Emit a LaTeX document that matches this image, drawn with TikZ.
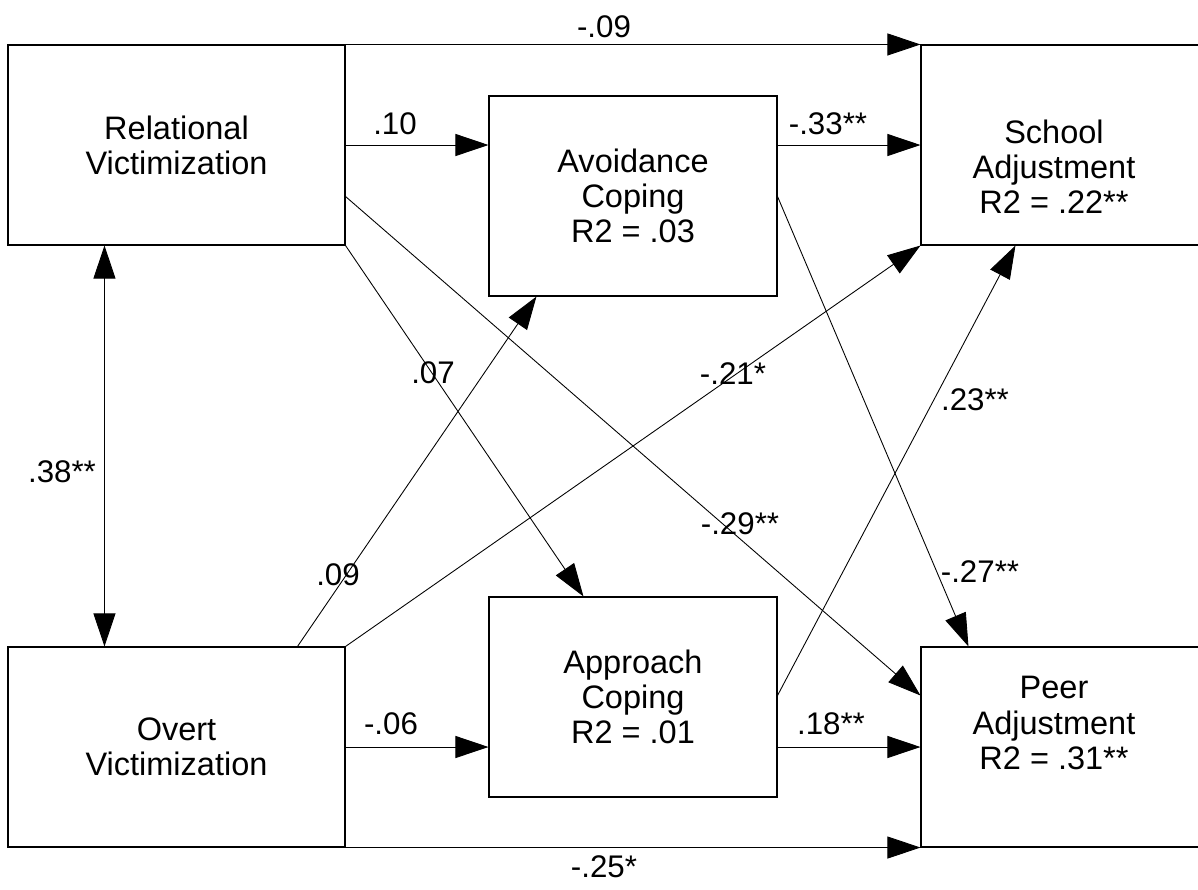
\documentclass[tikz,border=0pt]{standalone}
\usepackage{fontspec}
\setmainfont{Liberation Sans}
\usetikzlibrary{arrows.meta,calc,fit}
\begin{document}
\begin{tikzpicture}[x=0.02cm,y=-0.02cm,
  box/.style={draw, line width=0.6pt, inner sep=0pt, rectangle},
  txt/.style={align=center, font=\fontsize{18.5}{20}\selectfont, inner sep=0pt},
  lab/.style={font=\fontsize{17.8}{20}\selectfont, inner sep=0pt},
  conn/.style={line width=0.5pt, -{Triangle[length=0.66cm,width=0.44cm]}},
  dconn/.style={line width=0.5pt, {Triangle[length=0.66cm,width=0.44cm]}-{Triangle[length=0.66cm,width=0.44cm]}},
]
\useasboundingbox (0,0) rectangle (1198,890);
\clip (0,0) rectangle (1198,890);
\fill[white] (0,0) rectangle (1198,890);

% boxes
\node[box, fit={(8,45) (345,245)}] (rel) {};
\node[box, fit={(489,96) (777,296)}] (avo) {};
\node[box, fit={(921,45) (1202,245)}] (sch) {};
\node[box, fit={(8,647) (345,847)}] (ov) {};
\node[box, fit={(489,597) (777,797)}] (app) {};
\node[box, fit={(921,647) (1202,847)}] (peer) {};

% box texts
\node[txt] (reltxt) at (rel.center) {Relational\\Victimization};
\node[txt] (avotxt) at (avo.center) {Avoidance\\Coping\\R2 = .03};
\node[txt] (schtxt) at (1054,167) {School\\Adjustment\\R2 = .22**};
\node[txt] (ovtxt) at (ov.center) {Overt\\Victimization};
\node[txt] (apptxt) at (app.center) {Approach\\Coping\\R2 = .01};
\node[txt] (peertxt) at (1054,723) {Peer\\Adjustment\\R2 = .31**};

% horizontal paths
\draw[conn] (rel.north east) -- (sch.north west);
\draw[conn] (rel.east) -- (avo.west |- rel.east);
\draw[conn] (avo.east |- rel.east) -- (sch.west |- rel.east);
\draw[conn] (ov.east) -- (app.west |- ov.east);
\draw[conn] (app.east |- ov.east) -- (peer.west |- ov.east);
\draw[conn] (ov.south east) -- (peer.south west);

% correlation
\draw[dconn] ($(rel.south west)+(97,0)$) -- ($(ov.north west)+(97,0)$);

% diagonal paths
\draw[conn] (rel.south east) -- ($(app.north west)+(95,0)$);
\draw[conn] ($(rel.north east)+(0,152)$) -- ($(peer.north west)+(0,49)$);
\draw[conn] ($(ov.north west)+(290,0)$) -- ($(avo.south west)+(48,0)$);
\draw[conn] (ov.north east) -- (sch.south west);
\draw[conn] ($(app.north east)+(0,99)$) -- ($(sch.south west)+(95,0)$);
\draw[conn] ($(avo.north east)+(0,101)$) -- ($(peer.north west)+(48,0)$);

% labels
\node[lab] (l09) at (604,27) {-.09};
\node[lab] (l10) at (395,124) {.10};
\node[lab] (l33) at (828,124) {-.33**};
\node[lab] (l07) at (433,373) {.07};
\node[lab] (l21) at (733,374) {-.21*};
\node[lab] (l29) at (740,524) {-.29**};
\node[lab] (l23) at (975,400) {.23**};
\node[lab] (l27) at (980,572) {-.27**};
\node[lab] (l38) at (62,472) {.38**};
\node[lab] (l09b) at (338,575) {.09};
\node[lab] (l06) at (391,724) {-.06};
\node[lab] (l18) at (831,724) {.18**};
\node[lab] (l25) at (604,867) {-.25*};
\end{tikzpicture}
\end{document}
